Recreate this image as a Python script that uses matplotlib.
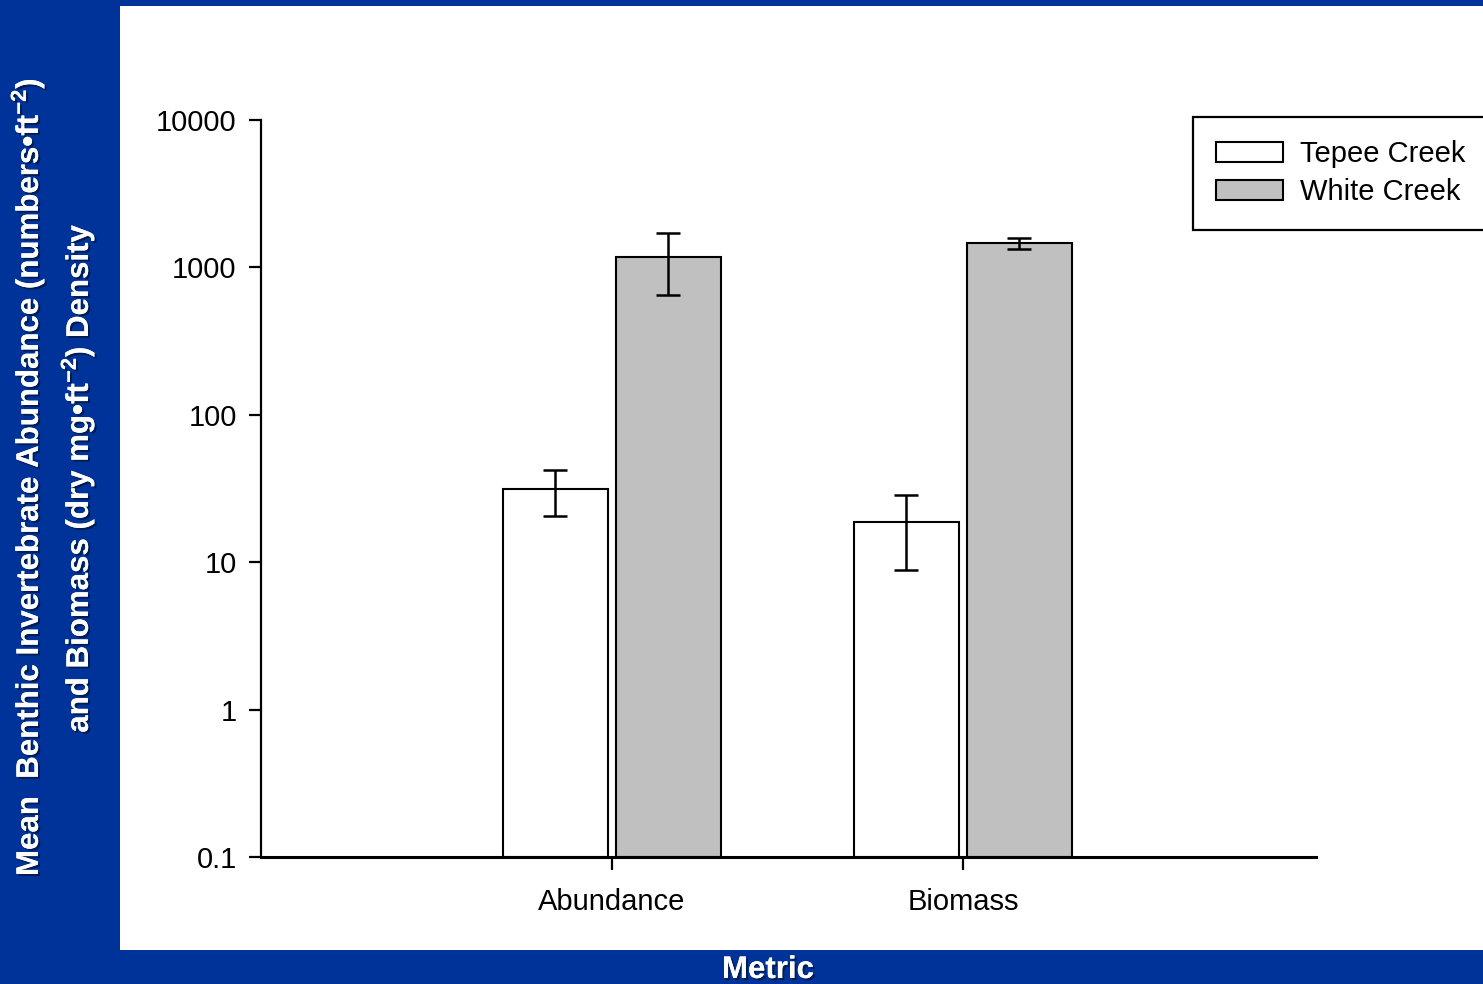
import matplotlib
matplotlib.use('Agg')
import matplotlib.pyplot as plt
import matplotlib.patheffects as pe
from matplotlib.patches import Rectangle
import numpy as np

plt.rcParams['font.family'] = ['Liberation Sans', 'DejaVu Sans']
plt.rcParams['mathtext.fontset'] = 'custom'
plt.rcParams['mathtext.rm'] = 'Liberation Sans'
plt.rcParams['mathtext.bf'] = 'Liberation Sans:bold'

# Data (log scale).
metrics = ['Abundance', 'Biomass']
tepee_mean = [31.4, 18.7]
tepee_low = [20.6, 8.9]
tepee_high = [42.3, 28.6]
white_mean = [1177, 1465]
white_low = [650, 1333]
white_high = [1711, 1583]
y_ticks = [0.1, 1, 10, 100, 1000, 10000]
y_tick_labels = ['0.1', '1', '10', '100', '1000', '10000']

blue = '#003399'
fig = plt.figure(figsize=(14.83, 9.84), dpi=100, facecolor=blue)

# White slide panel behind the chart.
fig.patches.append(Rectangle((120 / 1483, 34 / 984), 1 - 120 / 1483, 944 / 984,
                             transform=fig.transFigure, facecolor='white',
                             edgecolor='none', zorder=-5))

ax = fig.add_axes([261 / 1483, 127 / 984, 1055 / 1483, 737 / 984])
ax.set_facecolor('none')
ax.set_zorder(2)

x = np.arange(len(metrics))
width = 0.3
off = 0.161

err_t = [np.array(tepee_mean) - np.array(tepee_low),
         np.array(tepee_high) - np.array(tepee_mean)]
err_w = [np.array(white_mean) - np.array(white_low),
         np.array(white_high) - np.array(white_mean)]

ax.bar(x - off, tepee_mean, width, bottom=0.1, color='white', edgecolor='black',
       linewidth=1.5, label='Tepee Creek', zorder=2)
ax.bar(x + off, white_mean, width, bottom=0.1, color='#c0c0c0', edgecolor='black',
       linewidth=1.5, label='White Creek', zorder=2)
ax.errorbar(x - off, tepee_mean, yerr=err_t, fmt='none', ecolor='black',
            elinewidth=1.8, capsize=8.5, capthick=1.8, zorder=3)
ax.errorbar(x + off, white_mean, yerr=err_w, fmt='none', ecolor='black',
            elinewidth=1.8, capsize=8.5, capthick=1.8, zorder=3)

ax.set_yscale('log')
ax.set_ylim(0.1, 10000)
ax.set_xlim(-1, 2.006)
ax.set_yticks(y_ticks)
ax.set_yticklabels(y_tick_labels)
ax.minorticks_off()
ax.set_xticks(x)
ax.set_xticklabels(metrics)

ax.spines['top'].set_visible(False)
ax.spines['right'].set_visible(False)
ax.spines['left'].set_linewidth(1.6)
ax.spines['bottom'].set_linewidth(2.2)
ax.tick_params(axis='both', direction='out', length=9, width=1.6,
               labelsize=21, colors='black')
ax.tick_params(axis='y', pad=8.5)
ax.tick_params(axis='x', pad=13)

ax.legend(loc='upper left', bbox_to_anchor=(1193 / 1483, 1 - 117 / 984),
          bbox_transform=fig.transFigure, borderaxespad=0, fontsize=21,
          frameon=True, fancybox=False, edgecolor='black', framealpha=1,
          handlelength=2.3, handleheight=0.7, handletextpad=0.58,
          labelspacing=0.34, borderpad=0.8).get_frame().set_linewidth(1.6)

# Slide-style labels in white with a soft shadow.
shadow = [pe.withSimplePatchShadow(offset=(1.5, -1.5), shadow_rgbFace='#001a4d',
                                   alpha=0.9), pe.Normal()]
fig.text(28 / 1483, 1 - 477 / 984,
         'Mean  Benthic Invertebrate Abundance (numbers\u2022ft$^{\\mathbf{-2}}$)',
         rotation=90, ha='center', va='center', color='white', fontsize=22.5,
         fontweight='bold', path_effects=shadow)
fig.text(78 / 1483, 1 - 478 / 984,
         'and Biomass (dry mg\u2022ft$^{\\mathbf{-2}}$) Density',
         rotation=90, ha='center', va='center', color='white', fontsize=22.5,
         fontweight='bold', path_effects=shadow)
fig.text(768 / 1483, 1 - 970 / 984, 'Metric', ha='center', va='center',
         color='white', fontsize=22.5, fontweight='bold', path_effects=shadow)

fig.savefig('out.png', dpi=100, facecolor=blue)
